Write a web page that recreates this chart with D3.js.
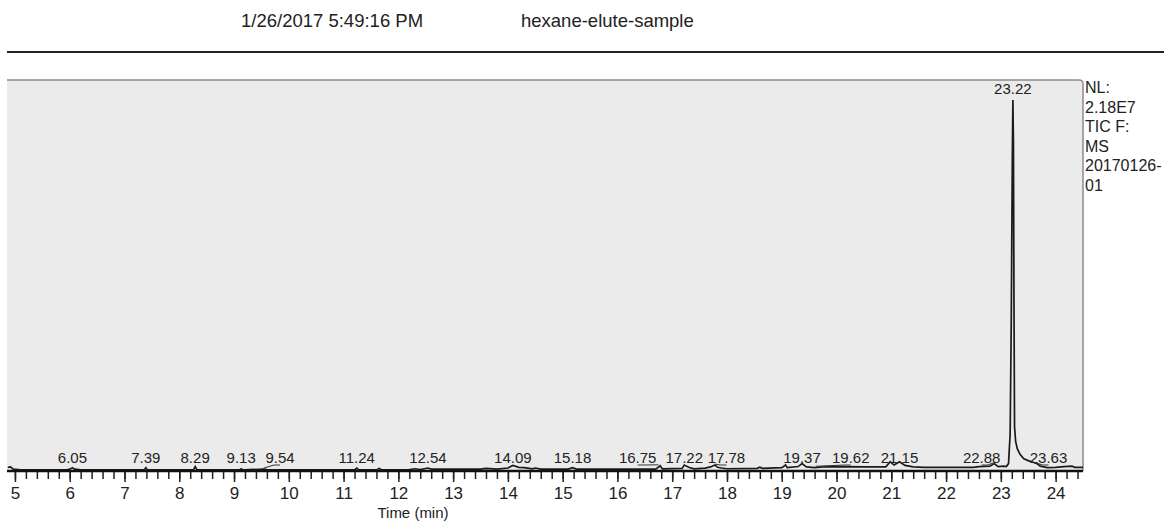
<!DOCTYPE html>
<html>
<head>
<meta charset="utf-8">
<script src="https://cdn.jsdelivr.net/npm/d3@7"></script>
<style>
  body { margin: 0; background: #fff; }
  svg text { font-family: "Liberation Sans", Arial, sans-serif; fill: #222; }
</style>
</head>
<body>
<svg id="chart" width="1164" height="521"></svg>
<script>
// header texts
const runDate = "1/26/2017 5:49:16 PM"
const sampleName = "hexane-elute-sample"
const sideInfo = ["NL:", "2.18E7", "TIC F:", "MS", "20170126-", "01"]

// x axis ticks (minutes)
const majorTicks = d3.range(5, 25, 1)
const minorTicks = d3.range(5, 24.6, 0.2)

// chromatogram trace: retention time (min) and relative abundance (%)
const traceTime = [4.87, 4.92, 4.97, 5.1, 5.5, 5.95, 6.02, 6.05, 6.09, 6.2, 7.0, 7.36, 7.39, 7.42,
  8.0, 8.26, 8.29, 8.32, 9.1, 9.13, 9.16, 9.54, 9.6, 10.5, 11.2, 11.24, 11.28, 11.6, 11.65, 11.7,
  12.2, 12.3, 12.4, 12.54, 12.6, 13.0, 13.5, 13.6, 13.8, 14.0, 14.09, 14.2, 14.3, 14.45, 14.5, 14.6,
  15.1, 15.18, 15.25, 16.0, 16.7, 16.78, 16.82, 17.18, 17.22, 17.3, 17.4, 17.6, 17.7, 17.78, 17.83,
  17.9, 18.0, 18.55, 18.6, 18.65, 19.0, 19.07, 19.1, 19.3, 19.37, 19.45, 19.6, 19.75, 20.1, 20.5,
  20.9, 20.98, 21.05, 21.15, 21.25, 21.4, 21.6, 22.0, 22.5, 22.6, 22.8, 22.88, 22.95, 23.05, 23.1,
  23.14, 23.17, 23.19, 23.21, 23.22, 23.23, 23.24, 23.25, 23.27, 23.3, 23.35, 23.42, 23.5, 23.6,
  23.66, 23.72, 23.85, 24.0, 24.15, 24.3, 24.35, 24.5]
const traceAbund = [1.0, 1.1, 0.5, 0.3, 0.3, 0.3, 0.6, 0.9, 0.5, 0.3, 0.3, 0.3, 0.9, 0.3,
  0.3, 0.3, 1.2, 0.4, 0.3, 0.6, 0.3, 0.5, 0.4, 0.3, 0.3, 0.8, 0.3, 0.3, 0.7, 0.3,
  0.4, 0.6, 0.4, 0.8, 0.5, 0.5, 0.5, 0.7, 0.5, 0.8, 1.5, 1.0, 0.9, 0.6, 0.8, 0.5,
  0.5, 0.9, 0.5, 0.5, 0.5, 1.4, 0.6, 0.7, 1.6, 1.0, 0.6, 0.8, 1.1, 1.6, 1.0,
  0.8, 0.6, 0.7, 1.0, 0.7, 0.9, 1.6, 0.9, 1.2, 2.0, 1.1, 0.9, 1.1, 1.2, 1.1,
  1.1, 2.5, 1.6, 2.5, 1.5, 1.1, 1.0, 1.0, 1.0, 1.2, 1.3, 2.0, 1.2, 1.3, 1.2,
  2.0, 10, 40, 85, 100, 88, 45, 12, 8, 6, 4.5, 3.3, 2.8, 2.3,
  2.0, 1.3, 0.9, 1.0, 1.2, 1.3, 1.0, 1.0]

// labelled peaks: time, abundance, label shift (min)
const peakTimes = [6.05, 7.39, 8.29, 9.13, 9.54, 11.24, 12.54, 14.09, 15.18, 16.75, 17.22, 17.78,
  19.37, 19.62, 21.15, 22.88, 23.22, 23.63]
const peakAbund = [0.9, 0.9, 1.2, 0.6, 0.5, 0.8, 0.8, 1.5, 0.9, 1.4, 1.6, 1.6,
  2.0, 1.0, 2.5, 2.0, 100, 2.0]
const labelShift = [0, 0, 0, 0, 0.3, 0, 0, 0, 0, -0.38, 0, 0.21,
  0, 0.64, 0, -0.23, 0, 0.24]

const svg = d3.select("#chart")
const plot = { left: 7, right: 1083, top: 80, bottom: 471 }

const x = d3.scaleLinear()
  .domain([4.855, 24.5])
  .range([plot.left, plot.right])
const y = d3.scaleLinear()
  .domain([0, 100])
  .range([plot.bottom, 100])

// header
svg.append("text").attr("x", 241).attr("y", 27).style("font-size", "18.5px").text(runDate)
svg.append("text").attr("x", 521).attr("y", 27).style("font-size", "18.5px").text(sampleName)
svg.append("line")
  .attr("x1", 7).attr("x2", 1164).attr("y1", 52).attr("y2", 52)
  .attr("stroke", "#222").attr("stroke-width", 2)

// plot frame
svg.append("path")
  .attr("d", `M${plot.left},${plot.bottom} V${plot.top} H${plot.right - 4} Q${plot.right},${plot.top} ${plot.right},${plot.top + 4} V${plot.bottom} Z`)
  .attr("fill", "#ebebeb")
svg.append("path")
  .attr("d", `M${plot.left},${plot.top} H${plot.right - 4} Q${plot.right},${plot.top} ${plot.right},${plot.top + 4} V${plot.bottom}`)
  .attr("fill", "none").attr("stroke", "#8c8c8c").attr("stroke-width", 1.5)

// trace
const trace = traceTime.map((t, i) => [t, traceAbund[i]])
svg.append("path")
  .datum(trace)
  .attr("fill", "none")
  .attr("stroke", "#1a1a1a")
  .attr("stroke-width", 1.7)
  .attr("d", d3.line().x(d => x(d[0])).y(d => y(d[1])))

// x axis
const axisG = svg.append("g").attr("transform", `translate(0,${plot.bottom})`)
axisG.call(d3.axisBottom(x).tickValues(minorTicks).tickSize(8).tickFormat(""))
axisG.call(g => g.select(".domain").remove())
const majorG = svg.append("g").attr("transform", `translate(0,${plot.bottom})`)
majorG.call(d3.axisBottom(x).tickValues(majorTicks).tickSize(11).tickPadding(5).tickFormat(d3.format("d")))
majorG.select(".domain").remove()
majorG.selectAll("text").style("font-size", "17px").attr("fill", "#222")
svg.selectAll(".tick line").attr("stroke", "#222").attr("stroke-width", 1.5)
svg.append("line")
  .attr("x1", plot.left).attr("x2", plot.right)
  .attr("y1", plot.bottom).attr("y2", plot.bottom)
  .attr("stroke", "#111").attr("stroke-width", 2.5)

svg.append("text")
  .attr("x", 413).attr("y", 518)
  .attr("text-anchor", "middle")
  .style("font-size", "15px")
  .text("Time (min)")

// peak labels
peakTimes.forEach((t, i) => {
  const px = x(t), py = y(peakAbund[i])
  const lx = x(t + labelShift[i])
  const ly = t === 23.22 ? 94 : 463
  svg.append("text")
    .attr("x", lx).attr("y", ly)
    .attr("text-anchor", "middle")
    .style("font-size", "15px")
    .text(t.toFixed(2))
  if (labelShift[i] !== 0) {
    const edge = lx + (labelShift[i] > 0 ? -6 : 6)
    svg.append("path")
      .attr("d", `M${px},${py - 1} L${edge},${ly + 2} L${lx},${ly + 2}`)
      .attr("fill", "none").attr("stroke", "#333").attr("stroke-width", 1)
  }
})

// side info
svg.append("text")
  .attr("x", 1085).attr("y", 93)
  .style("font-size", "16px")
  .selectAll("tspan")
  .data(sideInfo)
  .join("tspan")
    .attr("x", 1085)
    .attr("dy", (d, i) => i === 0 ? 0 : 19.5)
    .text(d => d)
</script>
</body>
</html>
